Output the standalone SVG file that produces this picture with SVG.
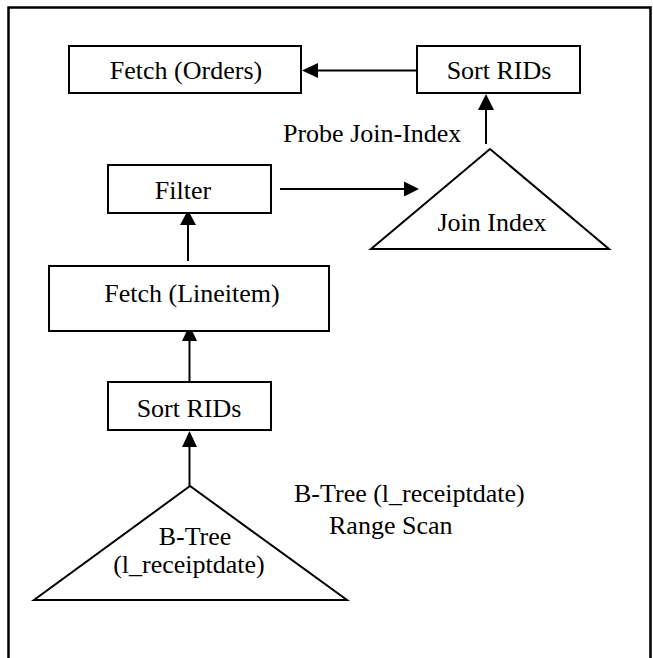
<svg xmlns="http://www.w3.org/2000/svg" width="653" height="658" viewBox="0 0 653 658">
<style>
  .box { fill: #fff; stroke: #000; stroke-width: 2; }
  .tri { fill: none; stroke: #000; stroke-width: 2; stroke-linejoin: miter; }
  .lbl { font-family: "Liberation Serif", "Times New Roman", serif; font-size: 26px; fill: #000; }
  .c { text-anchor: middle; }
  .edge { stroke: #000; stroke-width: 2; fill: none; }
  .head { fill: #000; stroke: none; }
</style>
<rect x="8.5" y="7.5" width="642" height="700" fill="none" stroke="#000" stroke-width="2.5"/>

<g id="connectors">
  <line class="edge" x1="417" y1="70.5" x2="316" y2="70.5"/>
  <polygon class="head" points="302,70.5 318,63 318,78"/>
  <line class="edge" x1="486" y1="144" x2="486" y2="108"/>
  <polygon class="head" points="486,94 478,110 494,110"/>
  <line class="edge" x1="280" y1="189" x2="406" y2="189"/>
  <polygon class="head" points="419,189 404,181.5 404,196.5"/>
  <line class="edge" x1="188" y1="261" x2="188" y2="223"/>
  <polygon class="head" points="188,210 180,225 196,225"/>
  <line class="edge" x1="189.5" y1="382" x2="189.5" y2="338"/>
  <polygon class="head" points="189.5,325 182,341 197,341"/>
  <line class="edge" x1="189.5" y1="486" x2="189.5" y2="445"/>
  <polygon class="head" points="189.5,431 182,447 197,447"/>
</g>

<g id="fetch-orders">
  <rect class="box" x="69" y="46" width="232" height="47"/>
  <text class="lbl c" x="186" y="79">Fetch (Orders)</text>
</g>
<g id="sort-rids-top">
  <rect class="box" x="417" y="46" width="163" height="47"/>
  <text class="lbl c" x="499" y="79">Sort RIDs</text>
</g>
<g id="probe-label">
  <text class="lbl" x="283" y="142">Probe Join-Index</text>
</g>
<g id="join-index">
  <polygon class="tri" points="490,149 371,249 609,249"/>
  <text class="lbl c" x="492" y="231">Join Index</text>
</g>
<g id="filter">
  <rect class="box" x="108" y="165" width="163" height="48"/>
  <text class="lbl c" x="183" y="199">Filter</text>
</g>
<g id="fetch-lineitem">
  <rect class="box" x="49" y="266" width="280" height="65"/>
  <text class="lbl c" x="192" y="302">Fetch (Lineitem)</text>
</g>
<g id="sort-rids-bottom">
  <rect class="box" x="108" y="382" width="163" height="48"/>
  <text class="lbl c" x="189" y="417">Sort RIDs</text>
</g>
<g id="btree">
  <polygon class="tri" points="190,486 34,600 347,600"/>
  <text class="lbl c" x="195" y="545">B-Tree</text>
  <text class="lbl c" x="189" y="573">(l_receiptdate)</text>
</g>
<g id="range-scan-label">
  <text class="lbl" x="294" y="502">B-Tree (l_receiptdate)</text>
  <text class="lbl" x="329" y="534">Range Scan</text>
</g>
</svg>
